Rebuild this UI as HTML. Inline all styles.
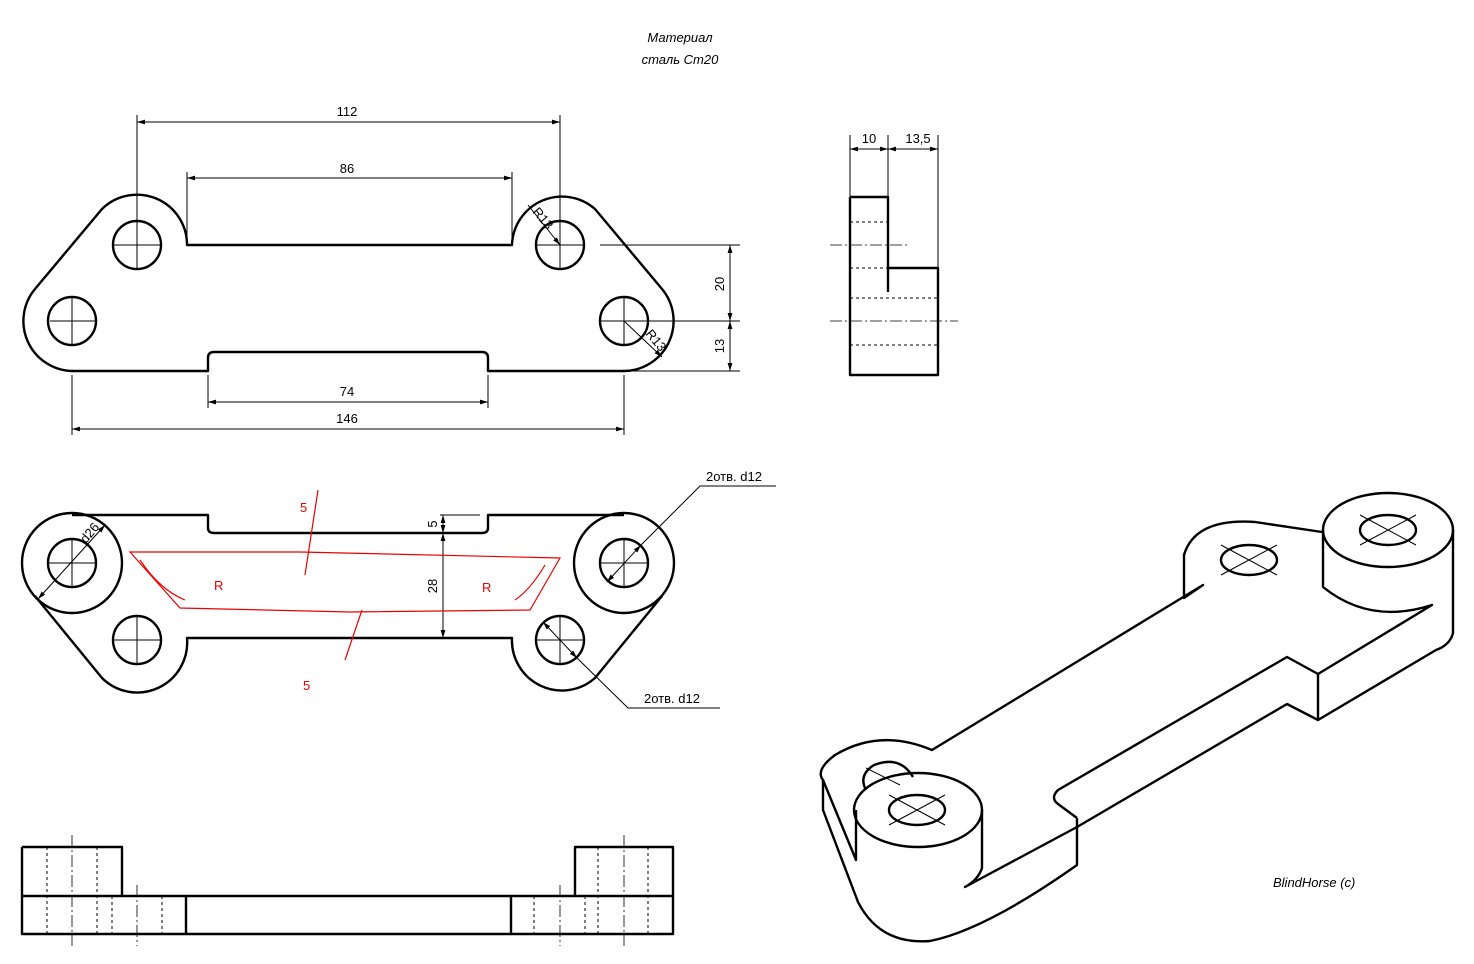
<!DOCTYPE html>
<html><head><meta charset="utf-8"><style>
html,body{margin:0;padding:0;background:#fff}
svg{display:block}
text{font-family:"Liberation Sans","DejaVu Sans",sans-serif;font-size:13px;fill:#000}
.t{stroke:#000;stroke-width:2.4;fill:none;stroke-linejoin:round}
.n{stroke:#000;stroke-width:1;fill:none}
.d{stroke:#000;stroke-width:1;fill:none;stroke-dasharray:3 3}
.c{stroke:#000;stroke-width:0.8;fill:none;stroke-dasharray:12 3 2 3}
.r{stroke:#e00;stroke-width:1.2;fill:none}
</style></head><body>
<svg width="1474" height="964" viewBox="0 0 1474 964" xmlns="http://www.w3.org/2000/svg">
<defs><marker id="a" viewBox="0 0 10 10" refX="10" refY="5" markerWidth="8" markerHeight="8" orient="auto-start-reverse"><path d="M0,2 L10,5 L0,8z" fill="#000"/></marker></defs>
<text x="680" y="42" text-anchor="middle" font-style="italic" font-size="14">Материал</text>
<text x="680" y="64" text-anchor="middle" font-style="italic" font-size="14">сталь Ст20</text>

<!-- TOP VIEW -->
<path class="t" d="M72,371 L208,371 L208,358 Q208,352 214,352 L482,352 Q488,352 488,358 L488,371 L624,371 A50,50 0 0 0 662,289 L595,209 A50,50 0 0 0 512,245 L187,245 A50,50 0 0 0 102,209 L35,289 A50,50 0 0 0 72,371 Z"/>
<circle class="t" cx="137" cy="245" r="24"/><circle class="t" cx="560" cy="245" r="24"/>
<circle class="t" cx="72" cy="321" r="24"/><circle class="t" cx="624" cy="321" r="24"/>
<path class="n" d="M137,115V225 M560,115V225 M187,172V240 M512,172V240 M72,375V435 M624,375V435 M208,375V408 M488,375V408 M600,245H740 M650,321H740 M630,371H740 M50,321H95 M600,321H650 M113,245H160 M537,245H585 M72,297V345 M624,297V345 M137,221V269 M560,221V269"/>
<line class="n" x1="137" y1="122" x2="560" y2="122" marker-start="url(#a)" marker-end="url(#a)"/>
<line class="n" x1="187" y1="178" x2="512" y2="178" marker-start="url(#a)" marker-end="url(#a)"/>
<line class="n" x1="208" y1="402" x2="488" y2="402" marker-start="url(#a)" marker-end="url(#a)"/>
<line class="n" x1="72" y1="429" x2="624" y2="429" marker-start="url(#a)" marker-end="url(#a)"/>
<line class="n" x1="730" y1="245" x2="730" y2="321" marker-start="url(#a)" marker-end="url(#a)"/>
<line class="n" x1="730" y1="321" x2="730" y2="371" marker-start="url(#a)" marker-end="url(#a)"/>
<line class="n" x1="528" y1="205" x2="560" y2="245" marker-end="url(#a)"/>
<line class="n" x1="624" y1="321" x2="662" y2="357" marker-end="url(#a)"/>
<text x="347" y="116" text-anchor="middle">112</text>
<text x="347" y="173" text-anchor="middle">86</text>
<text x="347" y="396" text-anchor="middle">74</text>
<text x="347" y="423" text-anchor="middle">146</text>
<text transform="translate(724,284) rotate(-90)" text-anchor="middle">20</text>
<text transform="translate(724,346) rotate(-90)" text-anchor="middle">13</text>
<text transform="translate(532,212) rotate(50)" font-size="11">R13</text>
<text transform="translate(645,334) rotate(50)" font-size="11">R13</text>

<!-- SIDE VIEW -->
<path class="t" d="M850,197 H888 V292 M888,268 H938 V375 H850 V197"/>
<path class="d" d="M850,222H888 M850,268H888 M850,298H938 M850,345H938"/>
<path class="c" d="M830,245H910 M830,321H958"/>
<path class="n" d="M850,135V197 M888,135V197 M938,135V268"/>
<line class="n" x1="850" y1="149" x2="888" y2="149" marker-start="url(#a)" marker-end="url(#a)"/>
<line class="n" x1="888" y1="149" x2="938" y2="149" marker-start="url(#a)" marker-end="url(#a)"/>
<text x="869" y="143" text-anchor="middle" font-size="12">10</text>
<text x="918" y="143" text-anchor="middle" font-size="12">13,5</text>

<!-- FRONT VIEW -->
<path class="t" d="M72,515 L208,515 L208,528 Q208,533 214,533 L482,533 Q488,533 488,528 L488,515 L624,515 M662,596 L595,678 A50,50 0 0 1 512,638 L187,638 A50,50 0 0 1 102,678 L35,596"/>
<circle class="t" cx="72" cy="563" r="50"/><circle class="t" cx="624" cy="563" r="50"/>
<circle class="t" cx="72" cy="563" r="24"/><circle class="t" cx="624" cy="563" r="24"/>
<circle class="t" cx="137" cy="640" r="24"/><circle class="t" cx="560" cy="640" r="24"/>
<path class="n" d="M48,563H96 M72,539V587 M600,563H648 M624,539V587 M113,640H161 M137,616V664 M536,640H584 M560,616V664 M440,515H480 M440,533H480"/>
<line class="n" x1="105" y1="525" x2="38" y2="599" marker-start="url(#a)" marker-end="url(#a)"/>
<line class="n" x1="607" y1="582" x2="641" y2="545" marker-start="url(#a)" marker-end="url(#a)"/>
<line class="n" x1="543" y1="622" x2="577" y2="658" marker-start="url(#a)" marker-end="url(#a)"/>
<polyline class="n" points="641,545 700,486 776,486"/>
<polyline class="n" points="577,658 628,708 720,708"/>
<line class="n" x1="443" y1="515" x2="443" y2="533" marker-start="url(#a)" marker-end="url(#a)"/>
<line class="n" x1="443" y1="533" x2="443" y2="638" marker-start="url(#a)" marker-end="url(#a)"/>
<text transform="translate(437,524) rotate(-90)" text-anchor="middle" font-size="11">5</text>
<text transform="translate(437,586) rotate(-90)" text-anchor="middle">28</text>
<text transform="translate(86,544) rotate(-50)" font-size="11">d26</text>
<text x="706" y="481" font-size="12">2отв. d12</text>
<text x="644" y="703" font-size="12">2отв. d12</text>
<!-- red sketch -->
<path class="r" d="M130,552 L300,552 L560,558 L530,610 L350,612 L180,608 Z"/>
<path class="r" d="M140,560 Q160,590 185,600 M545,565 Q530,590 515,600"/>
<path class="r" d="M318,490 L305,575 M362,610 L345,660"/>
<text x="300" y="512" font-size="20" style="fill:#e00">5</text>
<text x="303" y="690" font-size="20" style="fill:#e00">5</text>
<text x="214" y="590" font-size="18" style="fill:#e00">R</text>
<text x="482" y="592" font-size="18" style="fill:#e00">R</text>

<!-- BOTTOM VIEW -->
<path class="t" d="M22,847H122V896 M22,847V934H673V847H575V896 M22,896H673 M186,896V934 M511,896V934"/>
<path class="d" d="M47,847V934 M97,847V934 M112,896V934 M162,896V934 M534,896V934 M585,896V934 M598,847V934 M648,847V934"/>
<path class="c" d="M72,835V946 M137,885V946 M560,885V946 M624,835V946"/>

<!-- ISOMETRIC -->
<g class="t">
<ellipse cx="1388" cy="530" rx="65" ry="37"/>
<path d="M1323,530 V587 Q1370,625 1432,605 L1318,674 L1287,657 L1058,790 Q1050,798 1058,804 L1077,818"/>
<path d="M1453,530 V633 Q1450,645 1436,650 L1318,720 V674 M1318,720 L1287,704 L1077,827"/>
<path d="M1322,532 L1255,522 Q1195,518 1184,555 V598 L1203,585 L932,750 Q880,728 835,755 Q815,770 823,780 L856,860 V810"/>
<path d="M823,780 L823,810 L858,902 Q880,945 930,941 Q985,930 1077,865 V818"/>
<ellipse cx="918" cy="810" rx="64" ry="37"/>
<path d="M982,810 V868 Q978,880 965,887 L1077,827"/>
<path d="M866,790 Q858,775 874,765 Q900,755 913,777"/>
<ellipse cx="1249" cy="560" rx="28" ry="15"/>
<ellipse cx="1388" cy="530" rx="28" ry="15"/>
<ellipse cx="917" cy="810" rx="28" ry="15"/>
</g>
<g class="n">
<path d="M1360,515L1416,545 M1416,515L1360,545 M889,795L945,825 M945,795L889,825 M1221,545L1277,575 M1277,545L1221,575 M866,768L900,785"/>
</g>
<text x="1273" y="887" font-style="italic" font-size="13">BlindHorse (c)</text>
</svg>
</body></html>
